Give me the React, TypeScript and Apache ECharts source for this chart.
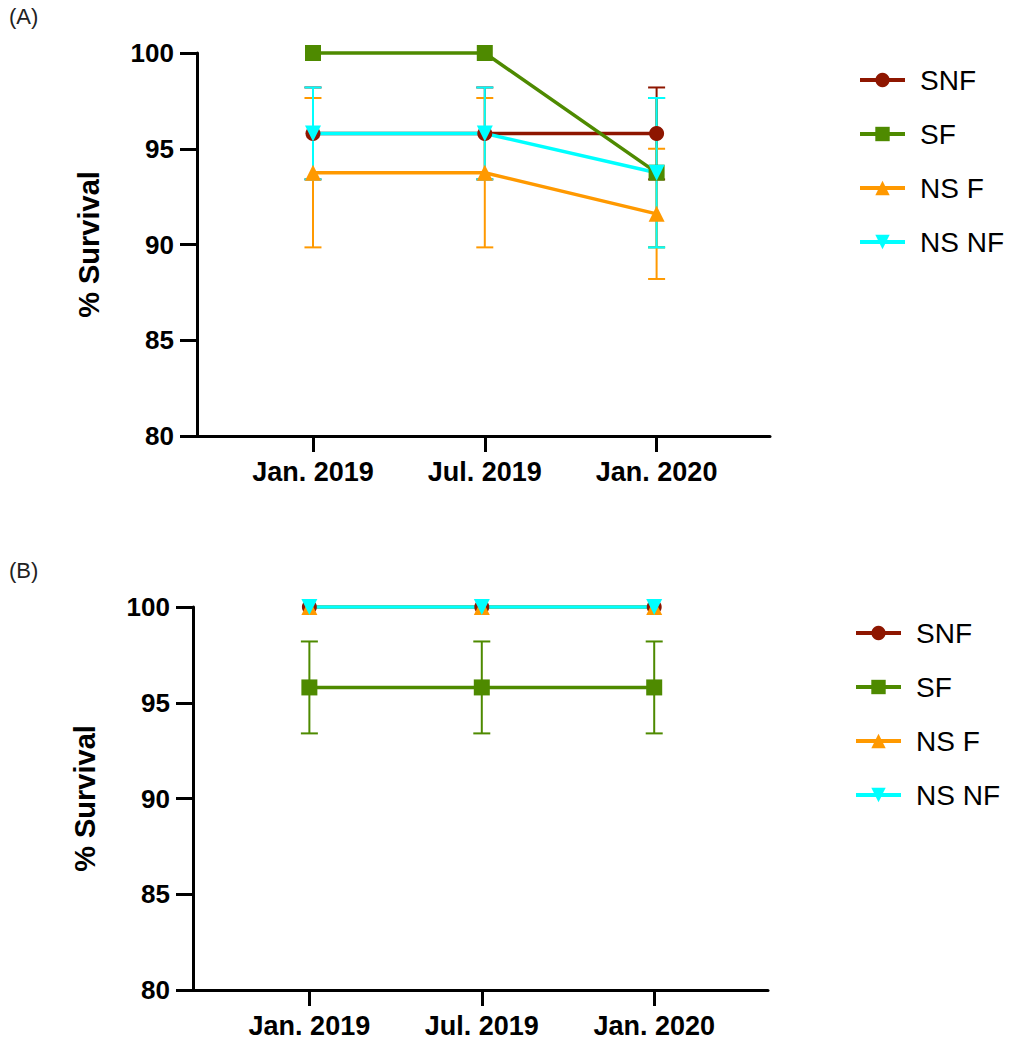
import React, { useEffect, useRef } from "react";
import * as echarts from "echarts";

const categories = ["Jan. 2019", "Jul. 2019", "Jan. 2020"];
const groupNames = ["SNF", "SF", "NS F", "NS NF"];
const yTicks = [80, 85, 90, 95, 100];

// Panel A: means and SEM per group
const snfA = [95.8, 95.8, 95.8];
const snfASem = [2.4, 2.4, 2.4];
const sfA = [100, 100, 93.75];
const sfASem = [0, 0, 3.9];
const nsfA = [93.75, 93.75, 91.6];
const nsfASem = [3.9, 3.9, 3.4];
const nsnfA = [95.8, 95.8, 93.75];
const nsnfASem = [2.4, 2.4, 3.9];

// Panel B: means and SEM per group
const snfB = [100, 100, 100];
const snfBSem = [0, 0, 0];
const sfB = [95.8, 95.8, 95.8];
const sfBSem = [2.4, 2.4, 2.4];
const nsfB = [100, 100, 100];
const nsfBSem = [0, 0, 0];
const nsnfB = [100, 100, 100];
const nsnfBSem = [0, 0, 0];

const COLORS = ["#8E1600", "#4E8A00", "#FF9900", "#00FFFF"];
const SYMBOLS = ["circle", "rect", "triangle", "triangle"];
const SYMBOL_SIZES = [15, 16, 16, 16];
const SYMBOL_ROT = [0, 0, 0, 180];
const FONT = "'Liberation Sans', Arial, Helvetica, sans-serif";

function lineSeries(idx: number, values: number[], axis: number) {
  return {
    type: "line",
    name: groupNames[idx],
    xAxisIndex: axis,
    yAxisIndex: axis,
    data: values.map((v, i) => [i, v]),
    symbol: SYMBOLS[idx],
    symbolSize: SYMBOL_SIZES[idx],
    symbolRotate: SYMBOL_ROT[idx],
    showAllSymbol: true,
    clip: false,
    lineStyle: { color: COLORS[idx], width: 3.5 },
    itemStyle: { color: COLORS[idx] },
    z: 2,
  };
}

function errorSeries(idx: number, values: number[], sem: number[], axis: number) {
  const color = COLORS[idx];
  return {
    type: "custom",
    name: groupNames[idx] + " error",
    xAxisIndex: axis,
    yAxisIndex: axis,
    clip: false,
    z: 2,
    data: values
      .map((v, i) => [i, v - sem[i], v + sem[i], sem[i]])
      .filter((d) => d[3] > 0),
    renderItem: (_params: any, api: any) => {
      const x = api.value(0);
      const top = api.coord([x, api.value(2)]);
      const bot = api.coord([x, api.value(1)]);
      const w = 8.5;
      const style = { stroke: color, lineWidth: 2 };
      return {
        type: "group",
        children: [
          { type: "line", shape: { x1: top[0], y1: top[1], x2: bot[0], y2: bot[1] }, style },
          { type: "line", shape: { x1: top[0] - w, y1: top[1], x2: top[0] + w, y2: top[1] }, style },
          { type: "line", shape: { x1: bot[0] - w, y1: bot[1], x2: bot[0] + w, y2: bot[1] }, style },
        ],
      };
    },
  };
}

function panelSeries(axis: number, vals: number[][], sems: number[][]) {
  const out: any[] = [];
  vals.forEach((v, i) => {
    out.push(lineSeries(i, v, axis));
    out.push(errorSeries(i, v, sems[i], axis));
  });
  return out;
}

function xAxisFor(gridIndex: number) {
  return {
    type: "value",
    gridIndex,
    min: -0.675,
    max: 2.66,
    splitLine: { show: false },
    axisLine: { show: true, onZero: false, lineStyle: { color: "#000", width: 3 } },
    axisTick: {
      show: true,
      customValues: [0, 1, 2],
      length: 16,
      lineStyle: { color: "#000", width: 3 },
    },
    axisLabel: {
      customValues: [0, 1, 2],
      formatter: (v: number) => categories[Math.round(v)] ?? "",
      color: "#000",
      fontSize: 27,
      fontWeight: "bold",
      fontFamily: FONT,
      margin: 22,
    },
  };
}

function yAxisFor(gridIndex: number) {
  return {
    type: "value",
    gridIndex,
    min: yTicks[0],
    max: yTicks[yTicks.length - 1],
    interval: 5,
    name: "% Survival",
    nameLocation: "middle",
    nameGap: 94,
    nameTextStyle: { color: "#000", fontSize: 29, fontWeight: "bold", fontFamily: FONT },
    splitLine: { show: false },
    axisLine: { show: true, onZero: false, lineStyle: { color: "#000", width: 3 } },
    axisTick: { show: true, length: 17, lineStyle: { color: "#000", width: 3 } },
    axisLabel: {
      color: "#000",
      fontSize: 26,
      fontWeight: "bold",
      fontFamily: FONT,
      margin: 23,
    },
  };
}

function legendFor(left: number, top: number) {
  return {
    orient: "vertical",
    left,
    top,
    data: groupNames,
    itemWidth: 45,
    itemHeight: 18,
    itemGap: 26,
    selectedMode: false,
    lineStyle: { width: 4 },
    textStyle: {
      color: "#000",
      fontSize: 28,
      fontFamily: FONT,
      lineHeight: 28,
      padding: [0, 0, 0, 10],
    },
  };
}

export default function App() {
  const ref = useRef<HTMLDivElement>(null);

  useEffect(() => {
    if (!ref.current) return;
    const chart = echarts.init(ref.current, undefined, { renderer: "svg" });
    chart.setOption({
      animation: false,
      backgroundColor: "#fff",
      grid: [
        { left: 197, top: 53, width: 573, height: 383 },
        { left: 193, top: 607, width: 575, height: 383 },
      ],
      xAxis: [xAxisFor(0), xAxisFor(1)],
      yAxis: [yAxisFor(0), yAxisFor(1)],
      legend: [legendFor(853, 61), legendFor(849, 614)],
      graphic: [
        { type: "text", left: 9, top: 5, style: { text: "(A)", fontSize: 22, fontFamily: FONT, fill: "#222" } },
        { type: "text", left: 9, top: 559, style: { text: "(B)", fontSize: 22, fontFamily: FONT, fill: "#222" } },
      ],
      series: [
        ...panelSeries(0, [snfA, sfA, nsfA, nsnfA], [snfASem, sfASem, nsfASem, nsnfASem]),
        ...panelSeries(1, [snfB, sfB, nsfB, nsnfB], [snfBSem, sfBSem, nsfBSem, nsnfBSem]),
      ],
    });
    return () => chart.dispose();
  }, []);

  return (
    <div
      ref={ref}
      style={{ position: "fixed", left: 0, top: 0, width: 1021, height: 1044 }}
    />
  );
}
